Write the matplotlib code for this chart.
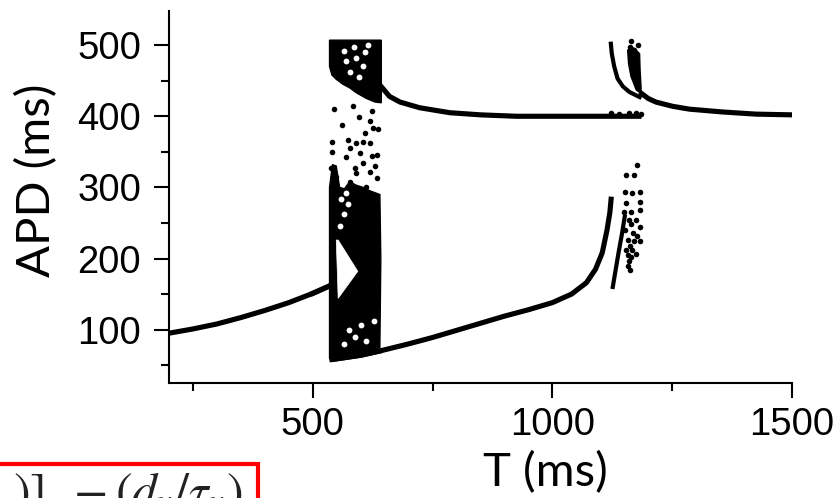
import numpy as np
import matplotlib
matplotlib.use("Agg")
import matplotlib.pyplot as plt
from matplotlib.patches import Rectangle, Polygon

# --- period-1 branches (T in ms, APD in ms) ---
low_left_T = [200, 250, 300, 350, 400, 450, 500, 540]
low_left_apd = [95, 101, 108, 117, 127, 138, 151, 163]

low_right_T = [540, 600, 640, 700, 750, 800, 850, 900, 950, 1000, 1040, 1071, 1090, 1104, 1114, 1120, 1123]
low_right_apd = [58, 64, 70, 80, 89, 99, 109, 119, 128, 138, 150, 166, 185, 208, 240, 265, 287]

high_T = [640, 660, 682, 723, 786, 850, 925, 1000, 1100, 1186]
high_apd = [444, 428, 420, 412, 405, 402, 400, 400, 400, 400]

tail_T = [1182, 1200, 1216, 1251, 1286, 1356, 1425, 1500]
tail_apd = [434, 425, 420, 414, 410, 406, 403, 402]

# second window near T = 1150
hook_up_T = [1122, 1124, 1129, 1136, 1147, 1161, 1182]
hook_up_apd = [502, 488, 470, 453, 442, 434, 427]
hook_low_T = [1126, 1132, 1138, 1145, 1151]
hook_low_apd = [160, 184, 208, 234, 259]

# chaotic band 535-643 ms, dense parts as outlines
band_top_T = [535, 643, 643, 630, 612, 591, 577, 563, 549, 540, 535]
band_top_apd = [507, 507, 419, 420, 425, 433, 440, 445, 452, 458, 470]
band_low_T = [535, 535, 541, 549, 556, 566, 577, 591, 605, 620, 640, 642, 640, 600, 540]
band_low_apd = [60, 300, 332, 330, 300, 298, 308, 303, 300, 295, 290, 200, 75, 64, 56]
gap_T = [549, 553, 594, 553]
gap_apd = [226, 226, 182, 144]
holes_T = [566, 570, 585, 590, 604, 608, 578, 596, 616,
           558, 565, 574, 556, 570, 600, 588, 612, 575, 628, 566]
holes_apd = [492, 478, 497, 482, 470, 490, 462, 455, 500,
             284, 262, 276, 246, 292, 106, 90, 84, 100, 112, 80]

band_dots_T = [544, 583, 623, 597, 619, 625, 636, 609, 541, 574, 591, 605, 620, 577, 598,
               623, 634, 541, 570, 605, 588, 619, 539, 633, 577, 612, 549, 560, 630, 590]
band_dots_apd = [410, 414, 408, 399, 394, 384, 382, 377, 364, 367, 363, 364, 362, 355, 348,
                 344, 346, 350, 343, 334, 327, 322, 327, 313, 308, 301, 315, 388, 330, 320]

# second window scatter
cloud_T = [1177, 1154, 1171, 1152, 1166, 1182, 1182, 1154, 1164, 1182, 1150, 1159, 1175, 1164, 1182,
           1152, 1168, 1177, 1157, 1171, 1182, 1161, 1166, 1175, 1157, 1164, 1159, 1157, 1161, 1154]
cloud_apd = [332, 318, 317, 294, 292, 294, 280, 278, 266, 268, 265, 254, 254, 249, 245,
             240, 236, 232, 226, 224, 224, 217, 212, 207, 205, 202, 196, 189, 184, 212]
cap_T = [1164, 1178, 1161, 1171, 1168, 1166, 1122, 1140, 1160, 1175, 1185]
cap_apd = [506, 500, 498, 493, 488, 480, 405, 403, 404, 404, 403]
fan_T = [1157, 1159, 1164, 1175, 1185, 1185, 1183, 1182, 1170]
fan_apd = [493, 474, 456, 437, 432, 441, 465, 488, 496]

fig = plt.figure(figsize=(8.4, 4.98), dpi=100)
ax = fig.add_axes([169 / 840, 115 / 498, 623 / 840, 372 / 498])

k = "black"
lw = 3.7
for xs, ys in [(low_left_T, low_left_apd), (low_right_T, low_right_apd),
               (high_T, high_apd), (tail_T, tail_apd)]:
    ax.plot(xs, ys, color=k, lw=lw, solid_capstyle="butt")
ax.plot(hook_up_T, hook_up_apd, color=k, lw=3.0)
ax.plot(hook_low_T, hook_low_apd, color=k, lw=3.0)

ax.add_patch(Polygon(np.column_stack([band_top_T, band_top_apd]), closed=True, fc=k, ec=k, lw=1))
ax.add_patch(Polygon(np.column_stack([band_low_T, band_low_apd]), closed=True, fc=k, ec=k, lw=1))
ax.add_patch(Polygon(np.column_stack([gap_T, gap_apd]), closed=True, fc="white", ec="white", lw=0.5))
ax.add_patch(Polygon(np.column_stack([fan_T, fan_apd]), closed=True, fc=k, ec=k, lw=1))
ax.plot(holes_T, holes_apd, "o", color="white", ms=4.2, mew=0)
# branches run back over the speckles
ax.plot(low_left_T[-2:], low_left_apd[-2:], color=k, lw=lw)
ax.plot(low_right_T[:3], low_right_apd[:3], color=k, lw=lw)

ax.plot(band_dots_T, band_dots_apd, "o", color=k, ms=4, mew=0)
ax.plot(cloud_T, cloud_apd, "o", color=k, ms=4, mew=0)
ax.plot(cap_T, cap_apd, "o", color=k, ms=4, mew=0)

ax.set_xlim(200, 1500)
ax.set_ylim(25, 548)
ax.set_xticks([500, 1000, 1500])
ax.set_xticks([250, 750, 1250], minor=True)
ax.set_yticks([100, 200, 300, 400, 500])
ax.set_yticks([50, 150, 250, 350, 450], minor=True)

for s in ["top", "right"]:
    ax.spines[s].set_visible(False)
for s in ["left", "bottom"]:
    ax.spines[s].set_linewidth(1.5)

ax.tick_params(which="major", direction="out", length=11, width=1.5)
ax.tick_params(which="minor", direction="out", length=5.5, width=1.5)
ax.tick_params(axis="x", which="major", pad=6)
ax.tick_params(axis="y", which="major", pad=9)
for lab in ax.get_xticklabels() + ax.get_yticklabels():
    lab.set_fontfamily("Liberation Sans")
    lab.set_fontsize(27.5)

ax.set_xlabel("T (ms)", fontfamily="Lato", fontsize=34, va="center")
ax.xaxis.set_label_coords(0.6035, -0.242)
ax.set_ylabel("APD (ms)", fontfamily="Lato", fontsize=34, va="center")
ax.yaxis.set_label_coords(-0.212, 0.546)

# boxed equation fragment cut off at the lower left
fig.patches.append(Rectangle((-0.02, -0.1), (258 + 17) / 840, 0.1 + 34 / 498,
                             transform=fig.transFigure, fill=False, ec="#ff0000", lw=3))
plt.rcParams["mathtext.fontset"] = "stix"
fig.text(13 / 840, -9 / 498, r"$)]\;\;-(d_v/\tau_v)$", fontsize=36, color="#222222",
         ha="left", va="baseline")

fig.savefig("out.png", dpi=100)
